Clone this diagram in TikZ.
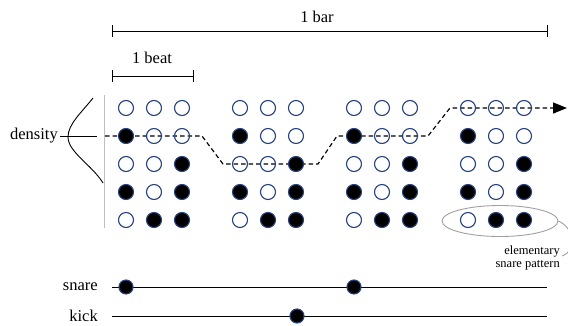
\documentclass[tikz,border=0pt]{standalone}
\usepackage{fontspec}
\setmainfont{Liberation Serif}
\usetikzlibrary{arrows.meta,shapes.geometric}

\definecolor{ring}{RGB}{38,66,125}
\definecolor{guide}{RGB}{190,190,190}
\definecolor{callout}{RGB}{160,160,160}

\begin{document}
\begin{tikzpicture}[x=1pt,y=-1pt,
  s0/.style={circle,draw=ring,line width=1.1pt,minimum size=15pt,inner sep=0pt},
  s1/.style={s0,fill=black},
  lbl/.style={font=\fontsize{16.5}{18}\selectfont,inner sep=0pt},
  note/.style={font=\fontsize{12.5}{13}\selectfont,inner sep=0pt,align=right},
  rule/.style={line width=0.9pt},
  span/.style={rule,{Bar[width=12pt,line width=0.9pt]}-{Bar[width=12pt,line width=0.9pt]}},
  level/.style={dash pattern=on 4.5pt off 3pt,line width=1.15pt},
]
\useasboundingbox (0,0) rectangle (568,325);

% time spans
\coordinate (barL) at (112,31);
\coordinate (barR) at (548,31);
\draw[span] (barL) -- (barR);
\node[lbl] (bartxt) at (317,17) {1 bar};
\coordinate (beatL) at (112,76);
\coordinate (beatR) at (194,76);
\draw[span] (beatL) -- (beatR);
\node[lbl] (beattxt) at (152,58) {1 beat};

% density axis with bell curve
\coordinate (axT) at (104,95);
\coordinate (axB) at (104,228);
\draw[guide,line width=1pt] (axT) -- (axB);
\node[lbl,anchor=east] (dens) at (58,136) {density};
\coordinate (densR) at (97,136);
\draw[rule] (dens.east) ++(2,0) -- (densR);
\draw[rule] (93,98) .. controls (82,112) and (68,124) .. (68,137)
                    .. controls (68,152) and (92,165) .. (103,183);

% density level across the bar
\coordinate (p0) at (105,136);
\coordinate (p1) at (202,136);
\coordinate (p2) at (223,164);
\coordinate (p3) at (318,164);
\coordinate (p4) at (337,136);
\coordinate (p5) at (428,136);
\coordinate (p6) at (450,108);
\coordinate (p7) at (567,108);
\draw[level,-{Triangle[length=14pt,width=11pt]}]
  (p0) -- (p1) -- (p2) -- (p3) -- (p4) -- (p5) -- (p6) -- (p7);

% onset grid: four beats, three slots each, five patterns
\foreach \g in {0,...,3}
  \foreach \r/\a/\b/\c in {0/0/0/0,1/1/0/0,2/0/0/1,3/1/0/1,4/0/1/1} {
    \node[s\a] (d\g\r0) at ({126+114*\g},{108+28*\r}) {};
    \node[s\b] (d\g\r1) at ({154+114*\g},{108+28*\r}) {};
    \node[s\c] (d\g\r2) at ({182+114*\g},{108+28*\r}) {};
  }

% callout for the elementary pattern
\node[ellipse,draw=callout,line width=0.9pt,minimum width=116pt,minimum height=31pt,inner sep=0pt]
  (pat) at (500,221) {};
\node[note,anchor=east] (patnote) at (560,258) {elementary\\snare pattern};
\begin{scope}
  \clip (0,0) rectangle (568,325);
  \draw[callout,line width=0.9pt] (pat.east) .. controls (574,228) and (578,250) .. (562,256);
\end{scope}

% instrument lanes
\node[lbl,anchor=east] (snare) at (98,287) {snare};
\coordinate (snL) at (112,287);
\coordinate (snR) at (547,287);
\draw[rule] (snL) -- (snR);
\node[s1,minimum size=14pt] (sn1) at (126,287) {};
\node[s1,minimum size=14pt] (sn2) at (354,287) {};

\node[lbl,anchor=east] (kick) at (98,316) {kick};
\coordinate (kkL) at (112,316);
\coordinate (kkR) at (547,316);
\draw[rule] (kkL) -- (kkR);
\node[s1,minimum size=14pt] (kk1) at (297,316) {};
\end{tikzpicture}
\end{document}
